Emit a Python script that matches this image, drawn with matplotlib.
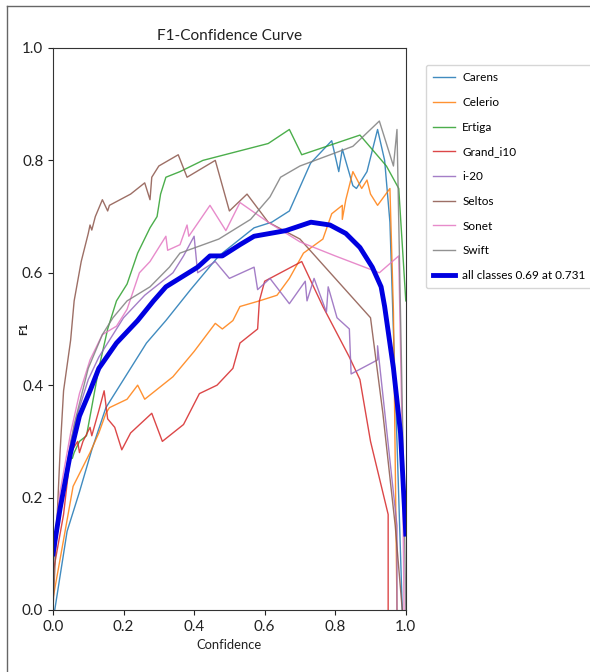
import matplotlib
matplotlib.use("Agg")
import matplotlib.pyplot as plt
import matplotlib.font_manager as fm
from matplotlib.lines import Line2D

# ---- data ----
carens_x = [0.005, 0.04, 0.075, 0.11, 0.15, 0.21, 0.265, 0.32, 0.39, 0.47, 0.57, 0.62, 0.67, 0.73, 0.79, 0.81, 0.82, 0.85, 0.86, 0.89, 0.92, 0.94, 0.955, 0.975, 0.99]
carens_y = [0.0, 0.14, 0.21, 0.285, 0.36, 0.42, 0.475, 0.515, 0.57, 0.63, 0.68, 0.69, 0.71, 0.795, 0.835, 0.78, 0.82, 0.755, 0.75, 0.78, 0.855, 0.80, 0.69, 0.30, 0.0]

celerio_x = [0.0, 0.03, 0.057, 0.105, 0.13, 0.15, 0.16, 0.21, 0.24, 0.26, 0.34, 0.40, 0.46, 0.48, 0.51, 0.53, 0.585, 0.635, 0.67, 0.71, 0.765, 0.79, 0.82, 0.82, 0.83, 0.85, 0.875, 0.89, 0.90, 0.92, 0.955, 0.965, 0.975]
celerio_y = [0.02, 0.125, 0.22, 0.28, 0.315, 0.35, 0.36, 0.375, 0.40, 0.375, 0.415, 0.46, 0.51, 0.50, 0.515, 0.54, 0.55, 0.56, 0.59, 0.635, 0.66, 0.705, 0.72, 0.695, 0.73, 0.78, 0.75, 0.765, 0.74, 0.72, 0.75, 0.53, 0.0]

ertiga_x = [0.055, 0.06, 0.075, 0.095, 0.13, 0.155, 0.18, 0.21, 0.24, 0.275, 0.295, 0.305, 0.32, 0.36, 0.425, 0.61, 0.67, 0.705, 0.87, 0.945, 0.98, 1.0]
ertiga_y = [0.27, 0.28, 0.30, 0.31, 0.43, 0.50, 0.55, 0.58, 0.635, 0.68, 0.70, 0.74, 0.77, 0.78, 0.80, 0.83, 0.855, 0.81, 0.845, 0.79, 0.75, 0.55]

grand_i10_x = [0.0, 0.03, 0.05, 0.07, 0.075, 0.085, 0.105, 0.11, 0.13, 0.145, 0.155, 0.175, 0.195, 0.22, 0.28, 0.31, 0.37, 0.415, 0.465, 0.51, 0.53, 0.58, 0.585, 0.60, 0.705, 0.765, 0.84, 0.87, 0.90, 0.95, 0.95]
grand_i10_y = [0.065, 0.17, 0.28, 0.30, 0.28, 0.30, 0.325, 0.31, 0.355, 0.39, 0.34, 0.325, 0.285, 0.315, 0.35, 0.30, 0.33, 0.385, 0.40, 0.43, 0.475, 0.50, 0.55, 0.585, 0.62, 0.54, 0.45, 0.41, 0.30, 0.17, 0.0]

i20_x = [0.01, 0.03, 0.05, 0.07, 0.10, 0.13, 0.17, 0.20, 0.23, 0.26, 0.30, 0.34, 0.37, 0.40, 0.41, 0.46, 0.50, 0.57, 0.58, 0.615, 0.67, 0.715, 0.72, 0.74, 0.775, 0.78, 0.805, 0.84, 0.845, 0.92, 0.92, 0.975, 0.975]
i20_y = [0.14, 0.22, 0.30, 0.35, 0.41, 0.45, 0.49, 0.52, 0.54, 0.56, 0.58, 0.60, 0.63, 0.665, 0.60, 0.62, 0.59, 0.61, 0.57, 0.59, 0.545, 0.585, 0.55, 0.59, 0.53, 0.575, 0.52, 0.50, 0.42, 0.445, 0.47, 0.15, 0.0]

seltos_x = [0.0, 0.02, 0.03, 0.05, 0.06, 0.08, 0.10, 0.105, 0.11, 0.12, 0.14, 0.155, 0.16, 0.22, 0.26, 0.275, 0.28, 0.30, 0.355, 0.38, 0.46, 0.50, 0.55, 0.61, 0.70, 0.90, 0.935, 0.97, 0.99]
seltos_y = [0.0, 0.28, 0.39, 0.48, 0.55, 0.62, 0.67, 0.685, 0.676, 0.70, 0.73, 0.71, 0.72, 0.74, 0.76, 0.73, 0.77, 0.79, 0.81, 0.77, 0.80, 0.71, 0.74, 0.69, 0.66, 0.52, 0.35, 0.15, 0.0]

sonet_x = [0.0, 0.02, 0.05, 0.075, 0.105, 0.14, 0.18, 0.21, 0.245, 0.275, 0.32, 0.325, 0.36, 0.38, 0.385, 0.445, 0.49, 0.53, 0.61, 0.70, 0.80, 0.925, 0.98, 0.99, 0.995]
sonet_y = [0.10, 0.21, 0.315, 0.385, 0.445, 0.49, 0.505, 0.535, 0.60, 0.62, 0.665, 0.64, 0.65, 0.685, 0.665, 0.72, 0.675, 0.725, 0.69, 0.655, 0.63, 0.60, 0.63, 0.30, 0.0]

swift_x = [0.0, 0.03, 0.06, 0.10, 0.14, 0.17, 0.21, 0.275, 0.33, 0.36, 0.47, 0.56, 0.615, 0.645, 0.70, 0.85, 0.925, 0.94, 0.965, 0.975, 0.995, 1.0]
swift_y = [0.08, 0.22, 0.33, 0.43, 0.49, 0.52, 0.55, 0.575, 0.61, 0.635, 0.66, 0.695, 0.735, 0.77, 0.79, 0.825, 0.87, 0.84, 0.79, 0.855, 0.20, 0.0]

all_x = [0.0, 0.02, 0.05, 0.075, 0.105, 0.13, 0.18, 0.24, 0.285, 0.32, 0.41, 0.445, 0.48, 0.53, 0.57, 0.66, 0.731, 0.785, 0.83, 0.87, 0.905, 0.93, 0.94, 0.965, 0.985, 1.0]
all_y = [0.10, 0.18, 0.28, 0.345, 0.39, 0.43, 0.475, 0.515, 0.55, 0.575, 0.61, 0.63, 0.63, 0.65, 0.665, 0.675, 0.69, 0.685, 0.67, 0.645, 0.61, 0.575, 0.54, 0.43, 0.315, 0.135]

names = ['Carens', 'Celerio', 'Ertiga', 'Grand_i10', 'i-20', 'Seltos', 'Sonet', 'Swift']
series = [(carens_x, carens_y), (celerio_x, celerio_y), (ertiga_x, ertiga_y),
          (grand_i10_x, grand_i10_y), (i20_x, i20_y), (seltos_x, seltos_y),
          (sonet_x, sonet_y), (swift_x, swift_y)]
colors = ['#1f77b4', '#ff7f0e', '#2ca02c', '#d62728', '#9467bd', '#8c564b', '#e377c2', '#7f7f7f']
all_label = 'all classes 0.69 at 0.731'

fig = plt.figure(figsize=(5.9, 6.72), dpi=100)
renderer = fig.canvas.get_renderer()

# choose an installed sans face whose width at 11 pt is closest to the reference's
# (the reference text is horizontally condensed)
preferred = ['Liberation Sans Narrow', 'DejaVu Sans', 'Liberation Sans', 'Roboto',
             'Open Sans', 'Noto Sans', 'Lato', 'Inter']
cands = []
for f in fm.fontManager.ttflist:
    if f.name not in preferred:
        continue
    if f.style != 'normal' or f.weight not in (400, 'normal', 'regular', 'book'):
        continue
    if f.stretch not in ('normal', 'semi-condensed', 'condensed'):
        continue
    cands.append((f.name, f.stretch))
cands = list(dict.fromkeys(cands)) or [('Liberation Sans', 'normal')]
target = 105.0
best, best_err = ('Liberation Sans', 'normal'), None
for name, stretch in cands:
    try:
        t = fig.text(0, 0, all_label,
                     fontproperties=fm.FontProperties(family=name, stretch=stretch, size=11))
        w = t.get_window_extent(renderer).width
        t.remove()
    except Exception:
        continue
    err = abs(w - target)
    if best_err is None or err < best_err:
        best_err, best = err, (name, stretch)

fam, stretch = best
plt.rcParams['font.family'] = [fam, 'DejaVu Sans']
plt.rcParams['font.stretch'] = stretch

def fit_size(text, target_px, max_size):
    t = fig.text(0, 0, text, fontsize=10)
    w = t.get_window_extent(renderer).width
    t.remove()
    return min(max_size, 10 * target_px / w)

legend_size = fit_size(all_label, 122, 11)
title_size = fit_size('F1-Confidence Curve', 145, 13)
tick_size = fit_size('0.0', 21, 11)
xlabel_size = fit_size('Confidence', 66, 11)

ax = fig.add_axes([0.0898, 0.0923, 0.598, 0.8363])

for (xs, ys), n, c in zip(series, names, colors):
    ax.plot(xs, ys, color=c, linewidth=1.0, alpha=0.85, label=n)
ax.plot(all_x, all_y, color='#0000e0', linewidth=3.5, label=all_label)

ax.set_xlim(0, 1)
ax.set_ylim(0, 1)
ax.set_xticks([0.0, 0.2, 0.4, 0.6, 0.8, 1.0])
ax.set_yticks([0.0, 0.2, 0.4, 0.6, 0.8, 1.0])
ax.tick_params(labelsize=tick_size, colors='#222222')
ax.set_xlabel('Confidence', fontsize=xlabel_size, color='#222222')
ax.set_ylabel('F1', fontsize=8, fontweight='bold', color='#222222')
ax.yaxis.set_label_coords(-0.068, 0.5)
ax.set_title('F1-Confidence Curve', fontsize=title_size, color='#222222')
for s in ax.spines.values():
    s.set_color('#333333')

leg = ax.legend(loc='upper left', bbox_to_anchor=(1.04, 0.98), fontsize=legend_size,
                frameon=True, handlelength=1.9, handletextpad=0.6, borderpad=0.6,
                labelspacing=(25.5 / (legend_size * 100 / 72)) - 1.0)
leg.get_frame().set_edgecolor('#cccccc')

# thin screenshot frame (top and left edges)
fig.add_artist(Line2D([7/590, 1.0], [1 - 6/672, 1 - 6/672], color='#666666', linewidth=1.0,
                      transform=fig.transFigure))
fig.add_artist(Line2D([7/590, 7/590], [0.0, 1 - 6/672], color='#666666', linewidth=1.0,
                      transform=fig.transFigure))

fig.savefig('out.png', dpi=100)
